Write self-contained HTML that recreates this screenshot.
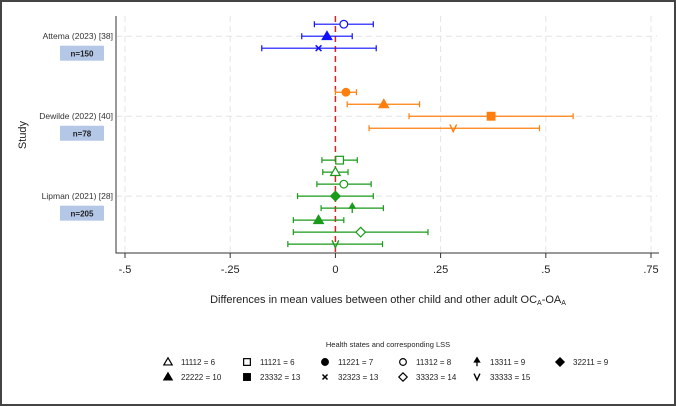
<!DOCTYPE html>
<html><head><meta charset="utf-8"><style>
html,body{margin:0;padding:0;background:#fff}
svg{display:block;font-family:"Liberation Sans",sans-serif}
</style></head><body>
<svg width="676" height="407" viewBox="0 0 676 407">
<rect x="1" y="1" width="674" height="404" fill="#fff" stroke="#444" stroke-width="2"/>
<g id="grid"></g>
<g id="plot"></g>
<g id="legend"></g>
</svg>
<script>
const ticks = [-0.5, -0.25, 0, 0.25, 0.5, 0.75];
const tickLabels = ['-.5', '-.25', '0', '.25', '.5', '.75'];
const studies = ['Attema (2023) [38]', 'Dewilde (2022) [40]', 'Lipman (2021) [28]'];
const sampleSizes = ['n=150', 'n=78', 'n=205'];
const studyColors = ['#1010ff', '#ff7f0e', '#1a9a1a'];
const studyIndex = [0,0,0, 1,1,1,1, 2,2,2,2,2,2,2,2];
const markerType = ['circle','tri-f','x', 'circle-f','tri-f','square-f','v', 'square','tri','circle','diamond-f','arrow','tri-f','diamond','v'];
const estimates = [0.02,-0.02,-0.04, 0.025,0.115,0.37,0.28, 0.01,0,0.02,0,0.04,-0.04,0.06,0];
const lower = [-0.05,-0.08,-0.175, 0,0.028,0.175,0.08, -0.032,-0.03,-0.044,-0.09,-0.034,-0.1,-0.1,-0.113];
const upper = [0.09,0.04,0.097, 0.05,0.2,0.565,0.485, 0.052,0.03,0.085,0.09,0.114,0.02,0.22,0.112];
const rowPos = [2,3,4, 7.67,8.67,9.67,10.67, 13.33,14.33,15.33,16.33,17.33,18.33,19.33,20.33];
const studyRow = [3, 9.67, 16.33];
const legendLabels = ['11112 = 6','11121 = 6','11221 = 7','11312 = 8','13311 = 9','32211 = 9','22222 = 10','23332 = 13','32323 = 13','33323 = 14','33333 = 15'];
const legendMarkers = ['tri','square','circle-f','circle','arrow','diamond-f','tri-f','square-f','x','diamond','v'];

const NS='http://www.w3.org/2000/svg';
const X0=125, X1=651, Ytop=0.2, Ystep=12;
const xs=v=>X0+(v+0.5)/1.25*(X1-X0);
const ys=r=>Ytop+r*Ystep;
function el(tag,attrs,parent,text){const e=document.createElementNS(NS,tag);for(const k in attrs)e.setAttribute(k,attrs[k]);if(text!=null)e.textContent=text;parent.appendChild(e);return e;}
const grid=document.getElementById('grid'), plot=document.getElementById('plot'), leg=document.getElementById('legend');

ticks.forEach((t,i)=>{
  if(t!==0){const g=el('line',{x1:xs(t),x2:xs(t),y1:16,y2:253,stroke:'#e4e4e4','stroke-dasharray':'6,4'},grid);
  
  }
  const tk=el('line',{x1:xs(t),x2:xs(t),y1:253,y2:258,stroke:'#333'},grid);
  
  
  const tl=el('text',{x:xs(t),y:273,'text-anchor':'middle','font-size':11,fill:'#222'},grid,tickLabels[i]);
  
  
});
studies.forEach((s,i)=>{
  const y=ys(studyRow[i]);
  const g=el('line',{x1:116,x2:657,y1:y,y2:y,stroke:'#e4e4e4','stroke-dasharray':'6,4'},grid);
  
  
  const t=el('text',{x:113,y:y+3,'text-anchor':'end','font-size':8.5,fill:'#333'},grid,s);
  
  
  const b=el('rect',{x:60,y:y+9.5,width:44,height:15,fill:'#b4c7e7'},grid);
  
  
  const bt=el('text',{x:82,y:y+20.5,'text-anchor':'middle','font-size':8,'font-weight':'bold',fill:'#222'},grid,sampleSizes[i]);
  
  
});
const ax=el('path',{d:'M116,16 V253 H659',fill:'none',stroke:'#333','stroke-width':1},grid);


const ref=el('line',{x1:xs(0),x2:xs(0),y1:16,y2:253,stroke:'#e02020','stroke-width':1.5,'stroke-dasharray':'6,4'},grid);


const yt=el('text',{x:26,y:135,'text-anchor':'middle','font-size':11,fill:'#222',transform:'rotate(-90 26 135)'},grid,'Study');


const xt=el('text',{x:388,y:303,'text-anchor':'middle','font-size':11,fill:'#222'},grid);


xt.innerHTML='Differences in mean values between other child and other adult OC<tspan font-size="7" dy="2">A</tspan><tspan dy="-2">-OA</tspan><tspan font-size="7" dy="2">A</tspan>';

function marker(type,x,y,c,s,parent){
  const f=type.endsWith('-f');const base=type.replace('-f','');
  const fill=f?c:'#fff';const a={stroke:c,'stroke-width':1.2,fill:fill};
  let m;
  if(base==='circle')m=el('circle',Object.assign({cx:x,cy:y,r:s*0.8},a),parent);
  else if(base==='square')m=el('rect',Object.assign({x:x-s*0.8,y:y-s*0.8,width:s*1.6,height:s*1.6},a),parent);
  else if(base==='tri')m=el('polygon',Object.assign({points:`${x},${y-s} ${x-s},${y+s*0.7} ${x+s},${y+s*0.7}`},a),parent);
  else if(base==='diamond')m=el('polygon',Object.assign({points:`${x},${y-s} ${x+s},${y} ${x},${y+s} ${x-s},${y}`},a),parent);
  else if(base==='x')m=el('path',{d:`M${x-s*0.6},${y-s*0.6}L${x+s*0.6},${y+s*0.6}M${x+s*0.6},${y-s*0.6}L${x-s*0.6},${y+s*0.6}`,stroke:c,'stroke-width':1.5},parent);
  else if(base==='v')m=el('path',{d:`M${x-s*0.7},${y-s*0.8}L${x},${y+s*0.7}L${x+s*0.7},${y-s*0.8}`,stroke:c,'stroke-width':1.4,fill:'none'},parent);
  else if(base==='arrow')m=el('path',{d:`M${x},${y+s}V${y-s*0.3}M${x-s*0.6},${y}L${x},${y-s}L${x+s*0.6},${y}Z`,stroke:c,'stroke-width':1.3,fill:c},parent);
  return m;
}

estimates.forEach((v,i)=>{
  const c=studyColors[studyIndex[i]], y=ys(rowPos[i]);
  const g=el('g',{},plot);
  
  
  el('path',{d:`M${xs(lower[i])},${y}H${xs(upper[i])}M${xs(lower[i])},${y-3}v6M${xs(upper[i])},${y-3}v6`,stroke:c,'stroke-width':1.2,fill:'none'},g);
  marker(markerType[i],xs(v),y,c,4.8,g);
});

const lt=el('text',{x:388,y:347,'text-anchor':'middle','font-size':7.5,fill:'#222'},leg,'Health states and corresponding LSS');


const colX=[168,247,325,403,477,560];
legendLabels.forEach((l,i)=>{
  const col=i%6,row=Math.floor(i/6);
  const x=colX[col], y=row?377:362;
  const g=el('g',{},leg);
  
  
  marker(legendMarkers[i],x,y,'#000',4.2,g);
  el('text',{x:x+13,y:y+3,'font-size':8,fill:'#222'},g,l);
});
</script>
</body></html>
